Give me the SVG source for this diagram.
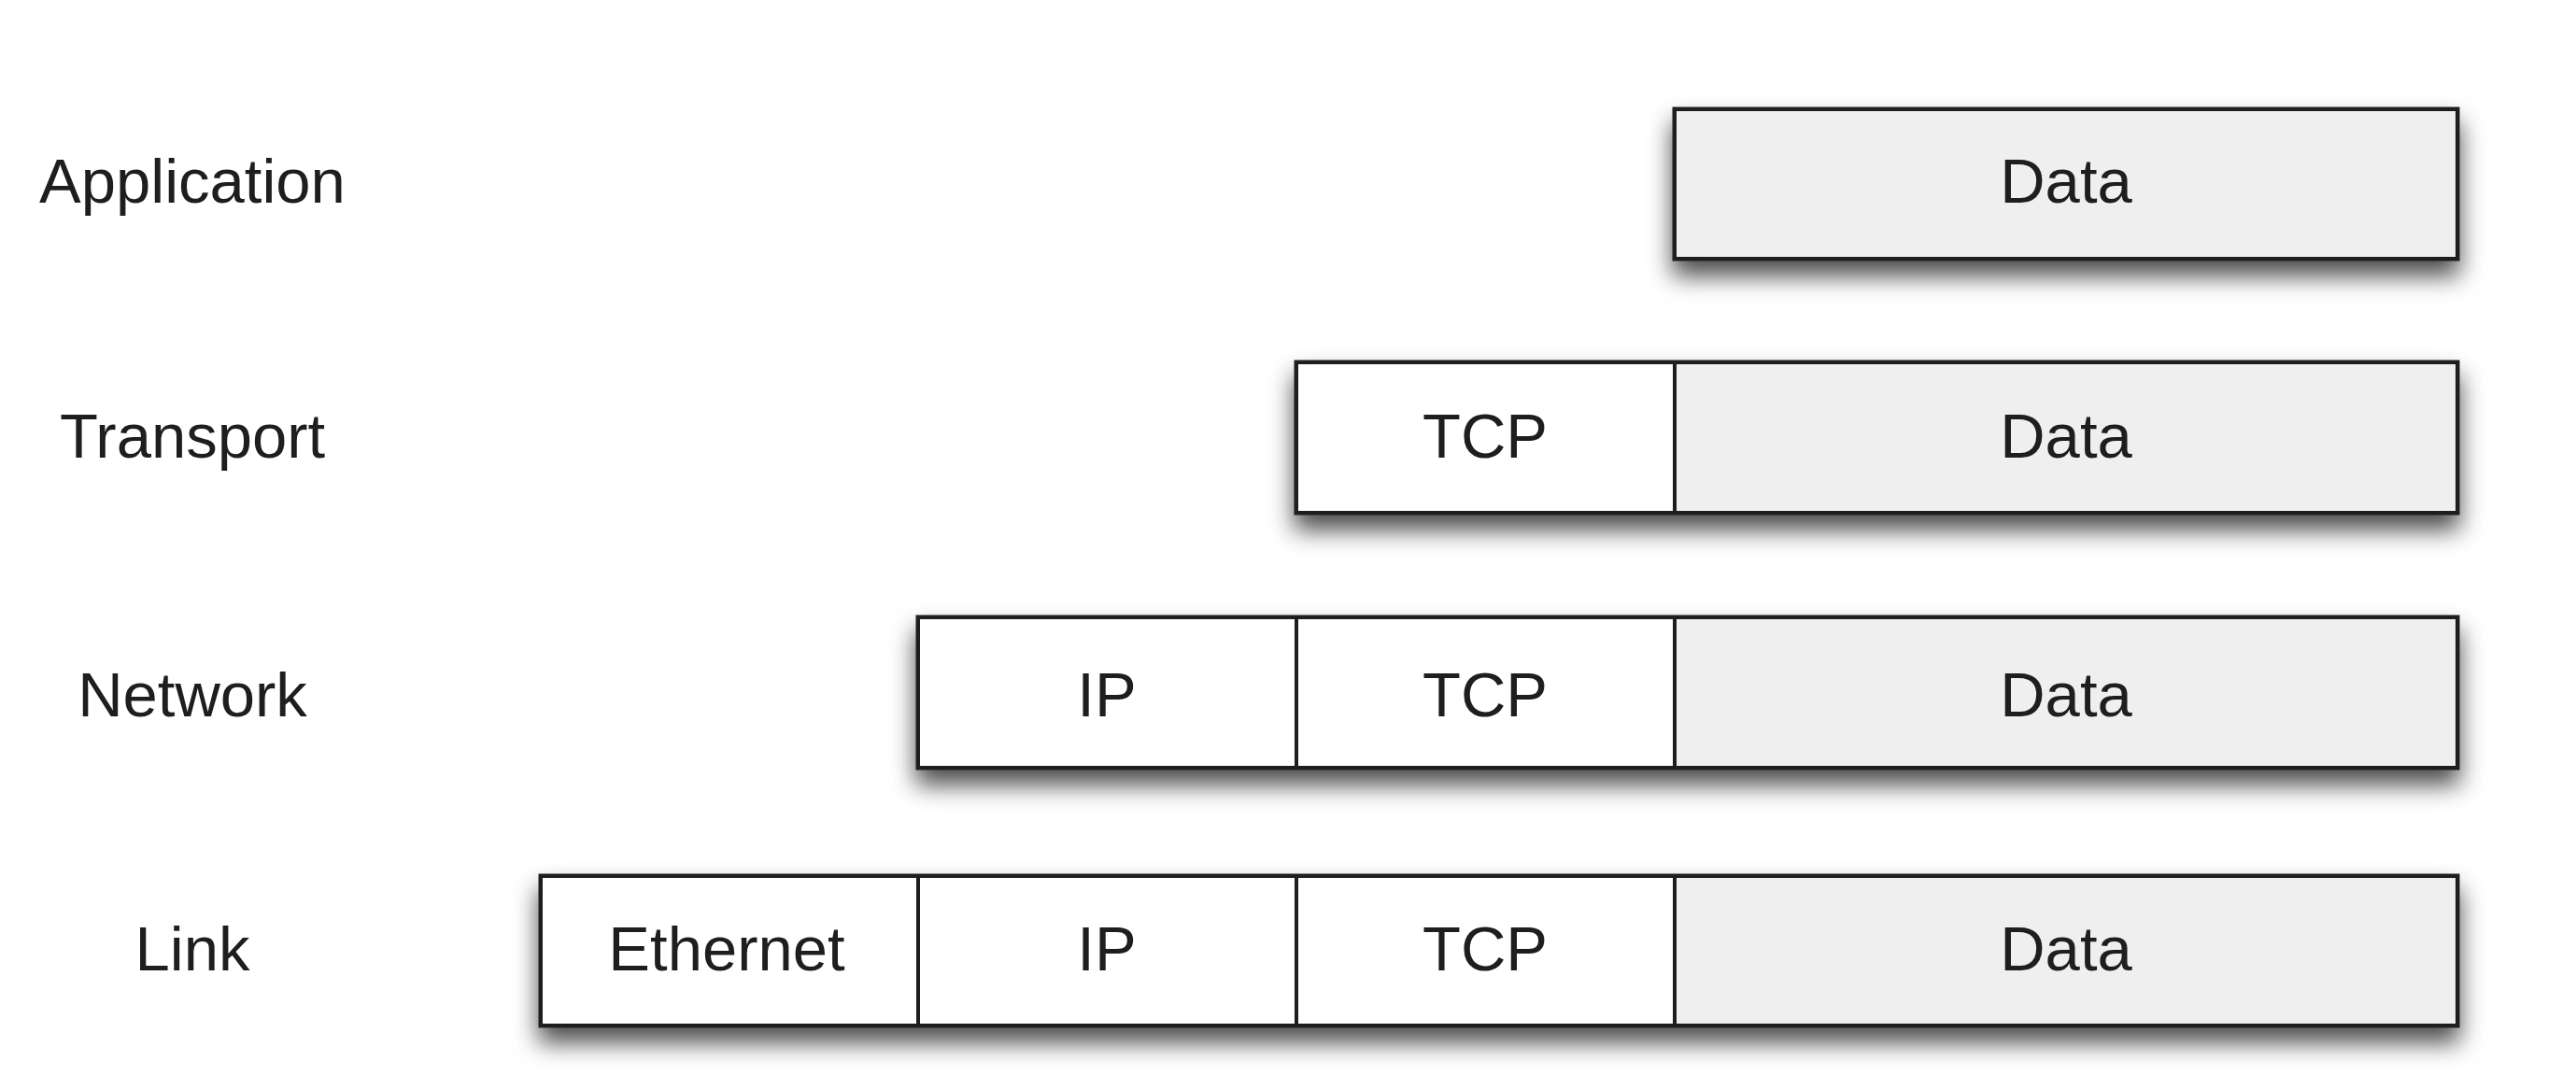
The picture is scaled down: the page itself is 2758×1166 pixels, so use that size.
<svg xmlns="http://www.w3.org/2000/svg" width="2758" height="1166" viewBox="0 0 2758 1166">
<defs>
<filter id="sh" x="-10%" y="-40%" width="120%" height="200%">
<feDropShadow dx="0" dy="16" stdDeviation="13" flood-color="#000" flood-opacity="0.7"/>
</filter>
</defs>
<style>
.lbl{font-family:"Liberation Sans",Arial,sans-serif;font-size:67px;fill:#1e1e1e;text-anchor:middle}
.frame{fill:#fff;stroke:#1e1e1e;stroke-width:5;filter:url(#sh)}
.hdr{fill:#fff;stroke:#1e1e1e;stroke-width:4}
.data{fill:#efefef;stroke:#1e1e1e;stroke-width:4}
</style>
<rect width="2758" height="1166" fill="#fff"/>
<g id="labels">
<text class="lbl" x="206" y="217">Application</text>
<text class="lbl" x="206" y="490">Transport</text>
<text class="lbl" x="206" y="767">Network</text>
<text class="lbl" x="206" y="1039">Link</text>
</g>
<g id="row-application">
<rect class="frame" x="1793" y="117" width="838" height="160"/>
<rect class="data" x="1793" y="117" width="838" height="160"/>
<text class="lbl" x="2212" y="217">Data</text>
</g>
<g id="row-transport">
<rect class="frame" x="1388" y="388" width="1243" height="161"/>
<rect class="hdr" x="1388" y="388" width="405" height="161"/>
<rect class="data" x="1793" y="388" width="838" height="161"/>
<text class="lbl" x="1590" y="490">TCP</text>
<text class="lbl" x="2212" y="490">Data</text>
</g>
<g id="row-network">
<rect class="frame" x="983" y="661" width="1648" height="161"/>
<rect class="hdr" x="983" y="661" width="405" height="161"/>
<rect class="hdr" x="1388" y="661" width="405" height="161"/>
<rect class="data" x="1793" y="661" width="838" height="161"/>
<text class="lbl" x="1185" y="767">IP</text>
<text class="lbl" x="1590" y="767">TCP</text>
<text class="lbl" x="2212" y="767">Data</text>
</g>
<g id="row-link">
<rect class="frame" x="579" y="938" width="2052" height="160"/>
<rect class="hdr" x="579" y="938" width="404" height="160"/>
<rect class="hdr" x="983" y="938" width="405" height="160"/>
<rect class="hdr" x="1388" y="938" width="405" height="160"/>
<rect class="data" x="1793" y="938" width="838" height="160"/>
<text class="lbl" x="778" y="1039">Ethernet</text>
<text class="lbl" x="1185" y="1039">IP</text>
<text class="lbl" x="1590" y="1039">TCP</text>
<text class="lbl" x="2212" y="1039">Data</text>
</g>
<g id="connectors"/>
</svg>
